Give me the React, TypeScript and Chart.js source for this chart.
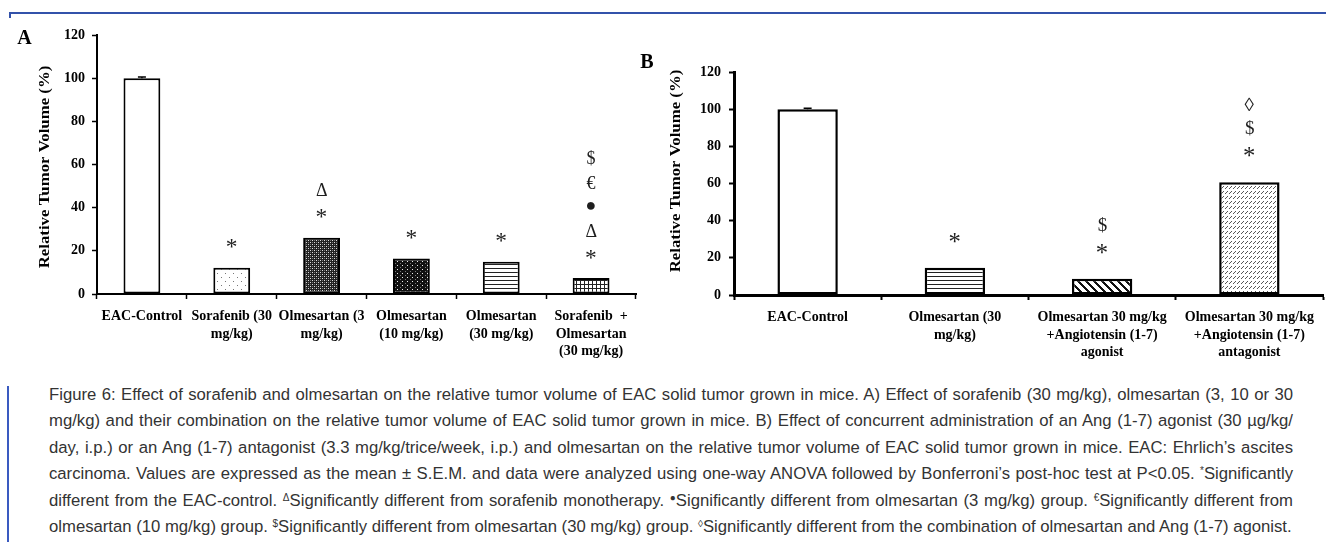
import React, { useEffect, useLayoutEffect, useRef } from "react";
import { Chart, registerables } from "chart.js";
Chart.register(...registerables);

// ---------------- data ----------------
const categoriesA: string[][] = [
  ["EAC-Control"],
  ["Sorafenib (30", "mg/kg)"],
  ["Olmesartan (3", "mg/kg)"],
  ["Olmesartan", "(10 mg/kg)"],
  ["Olmesartan", "(30 mg/kg)"],
  ["Sorafenib  +", "Olmesartan", "(30 mg/kg)"],
];
const valuesA = [100, 12.2, 26.1, 16.4, 15.0, 7.4];
const semA = [0.5, 0, 0, 0, 0, 0];
const marksA: string[][] = [[], ["*"], ["*", "Δ"], ["*"], ["*"], ["*", "Δ", "●", "€", "$"]];

const categoriesB: string[][] = [
  ["EAC-Control"],
  ["Olmesartan (30", "mg/kg)"],
  ["Olmesartan 30 mg/kg", "+Angiotensin (1-7)", "agonist"],
  ["Olmesartan 30 mg/kg", "+Angiotensin (1-7)", "antagonist"],
];
const valuesB = [100, 14.7, 8.8, 60.7];
const semB = [0.5, 0, 0, 0];
const marksB: string[][] = [[], ["*"], ["*", "$"], ["*", "$", "◊"]];

const yTicks = [0, 20, 40, 60, 80, 100, 120];
const yTitle = "Relative Tumor Volume (%)";

const captionLines = [
  "Figure 6: Effect of sorafenib and olmesartan on the relative tumor volume of EAC solid tumor grown in mice. A) Effect of sorafenib (30 mg/kg), olmesartan (3, 10 or 30",
  "mg/kg) and their combination on the relative tumor volume of EAC solid tumor grown in mice. B) Effect of concurrent administration of an Ang (1-7) agonist (30 µg/kg/",
  "day, i.p.) or an Ang (1-7) antagonist (3.3 mg/kg/trice/week, i.p.) and olmesartan on the relative tumor volume of EAC solid tumor grown in mice. EAC: Ehrlich’s ascites",
  "carcinoma. Values are expressed as the mean ± S.E.M. and data were analyzed using one-way ANOVA followed by Bonferroni’s post-hoc test at P<0.05. {*}Significantly",
  "different from the EAC-control. {Δ}Significantly different from sorafenib monotherapy. {●}Significantly different from olmesartan (3 mg/kg) group. {€}Significantly different from",
  "olmesartan (10 mg/kg) group. {$}Significantly different from olmesartan (30 mg/kg) group. {◊}Significantly different from the combination of olmesartan and Ang (1-7) agonist.",
];

// ---------------- styles ----------------
const fillsA = ["white", "dots", "dense", "darkdots", "hlines", "grid"];
const fillsB = ["white", "hlines", "diag", "slashes"];
const markScale: Record<string, number> = { "*": 1.3 };

function makeFill(name: string): any {
  const mk = (w: number, h: number, draw: (c: CanvasRenderingContext2D) => void) => {
    const cv = document.createElement("canvas");
    cv.width = w;
    cv.height = h;
    const c = cv.getContext("2d")!;
    draw(c);
    return c.createPattern(cv, "repeat");
  };
  const px = (c: CanvasRenderingContext2D, x: number, y: number, col: string) => {
    c.fillStyle = col;
    c.fillRect(x, y, 1, 1);
  };
  switch (name) {
    case "dots":
      return mk(8, 8, (c) => {
        c.fillStyle = "#fff";
        c.fillRect(0, 0, 8, 8);
        px(c, 1, 1, "#777");
        px(c, 5, 5, "#777");
      });
    case "dense":
      return mk(4, 4, (c) => {
        c.fillStyle = "#222";
        c.fillRect(0, 0, 4, 4);
        px(c, 0, 0, "#ddd");
        px(c, 2, 2, "#ddd");
        px(c, 0, 2, "#777");
        px(c, 2, 0, "#777");
      });
    case "darkdots":
      return mk(5, 4, (c) => {
        c.fillStyle = "#111";
        c.fillRect(0, 0, 5, 4);
        px(c, 2, 1, "#eee");
        px(c, 0, 3, "#777");
      });
    case "hlines":
      return mk(4, 4, (c) => {
        c.fillStyle = "#fff";
        c.fillRect(0, 0, 4, 4);
        c.fillStyle = "#222";
        c.fillRect(0, 0, 4, 1);
      });
    case "grid":
      return mk(4, 4, (c) => {
        c.fillStyle = "#fff";
        c.fillRect(0, 0, 4, 4);
        c.fillStyle = "#222";
        c.fillRect(0, 0, 4, 1);
        c.fillRect(0, 0, 1, 4);
      });
    case "diag":
      return mk(8, 8, (c) => {
        c.fillStyle = "#fff";
        c.fillRect(0, 0, 8, 8);
        for (let y = 0; y < 8; y++)
          for (let x = 0; x < 8; x++) if ((((x - y) % 8) + 8) % 8 < 3) px(c, x, y, "#111");
      });
    case "slashes":
      return mk(4, 5, (c) => {
        c.fillStyle = "#fff";
        c.fillRect(0, 0, 4, 5);
        px(c, 1, 3, "#555");
        px(c, 2, 2, "#555");
        px(c, 3, 1, "#555");
      });
    default:
      return "#ffffff";
  }
}

const extrasPlugin = {
  id: "extras",
  afterDatasetsDraw(chart: any, _a: any, opts: any) {
    const ctx: CanvasRenderingContext2D = chart.ctx;
    const meta = chart.getDatasetMeta(0);
    const y = chart.scales.y;
    const data = chart.data.datasets[0].data as number[];
    ctx.save();
    data.forEach((v, i) => {
      const el = meta.data[i];
      const s = opts.sem[i] || 0;
      const yv = y.getPixelForValue(v);
      const ye = y.getPixelForValue(v + s);
      if (s > 0) {
        ctx.strokeStyle = "#000";
        ctx.lineWidth = 1.5;
        ctx.beginPath();
        ctx.moveTo(el.x, yv);
        ctx.lineTo(el.x, ye);
        ctx.moveTo(el.x - opts.cap, ye);
        ctx.lineTo(el.x + opts.cap, ye);
        ctx.stroke();
      }
      const marks: string[] = opts.marks[i] || [];
      marks.forEach((m, k) => {
        const cy = ye - opts.first - k * opts.gap;
        const size = opts.markSize * (markScale[m] || 1);
        ctx.font = `${size}px "Liberation Serif", "DejaVu Serif", serif`;
        ctx.textAlign = "left";
        ctx.textBaseline = "alphabetic";
        const mt = ctx.measureText(m);
        const L = mt.actualBoundingBoxLeft,
          R = mt.actualBoundingBoxRight;
        const A = mt.actualBoundingBoxAscent,
          D = mt.actualBoundingBoxDescent;
        ctx.fillStyle = "#1e1e1e";
        ctx.fillText(m, el.x - (R - L) / 2, cy + (A - D) / 2);
      });
    });
    ctx.restore();
  },
  afterDraw(chart: any, _a: any, opts: any) {
    const ctx: CanvasRenderingContext2D = chart.ctx;
    ctx.save();
    ctx.translate(opts.titleX, opts.titleY);
    ctx.rotate(-Math.PI / 2);
    ctx.scale(opts.titleStretch, 1);
    ctx.font = 'bold 14px "Liberation Serif", serif';
    ctx.textAlign = "center";
    ctx.textBaseline = "middle";
    ctx.fillStyle = "#000";
    ctx.fillText(yTitle, 0, 0);
    ctx.restore();
  },
};

type PanelCfg = {
  left: number;
  width: number;
  height: number;
  padTop: number;
  padRight: number;
  yAxisWidth: number;
  xAxisHeight: number;
  barPct: number;
  barBorder: number;
  axisWidth: number;
  tickWidth: number;
  markSize: number;
  first: number;
  gap: number;
  titleX: number;
  titleY: number;
  yPad: number;
};

function Panel(props: {
  categories: string[][];
  values: number[];
  sem: number[];
  marks: string[][];
  fills: string[];
  cfg: PanelCfg;
}) {
  const ref = useRef<HTMLCanvasElement>(null);
  const { cfg } = props;
  useEffect(() => {
    const font = { family: '"Liberation Serif", serif', size: 14, weight: "bold" as const, lineHeight: 1.25 };
    const chart = new Chart(ref.current!, {
      type: "bar",
      data: {
        labels: props.categories,
        datasets: [
          {
            data: props.values,
            backgroundColor: props.fills.map(makeFill),
            borderColor: "#000",
            borderWidth: cfg.barBorder,
            borderSkipped: false,
            barPercentage: cfg.barPct,
            categoryPercentage: 1,
          },
        ],
      },
      options: {
        responsive: false,
        animation: false,
        layout: { padding: { left: 0, right: cfg.padRight, top: cfg.padTop, bottom: 0 } },
        plugins: {
          legend: { display: false },
          tooltip: { enabled: false },
          extras: {
            sem: props.sem,
            marks: props.marks,
            cap: 4,
            first: cfg.first,
            gap: cfg.gap,
            markSize: cfg.markSize,
            titleX: cfg.titleX,
            titleY: cfg.titleY,
            titleStretch: 1.2,
          },
        } as any,
        scales: {
          x: {
            grid: {
              drawOnChartArea: false,
              drawTicks: true,
              tickLength: 5,
              tickWidth: cfg.tickWidth,
              tickColor: "#000",
              offset: true,
            },
            border: { display: true, color: "#000", width: cfg.axisWidth },
            ticks: {
              color: "#000",
              font,
              maxRotation: 0,
              minRotation: 0,
              autoSkip: false,
              padding: 9,
            },
            afterFit: (s: any) => {
              s.height = cfg.xAxisHeight;
            },
          },
          y: {
            min: 0,
            max: 120,
            afterBuildTicks: (s: any) => {
              s.ticks = yTicks.map((v) => ({ value: v }));
            },
            grid: {
              drawOnChartArea: false,
              drawTicks: true,
              tickLength: 5,
              tickWidth: cfg.tickWidth,
              tickColor: "#000",
            },
            border: { display: true, color: "#000", width: cfg.axisWidth },
            ticks: { color: "#000", font, padding: cfg.yPad },
            afterFit: (s: any) => {
              s.width = cfg.yAxisWidth;
            },
          },
        },
      },
      plugins: [extrasPlugin as any],
    });
    return () => chart.destroy();
  }, []);
  return (
    <canvas
      ref={ref}
      width={cfg.width}
      height={cfg.height}
      style={{ position: "absolute", left: cfg.left, top: 0, width: cfg.width, height: cfg.height }}
    />
  );
}

const cfgA: PanelCfg = {
  left: 0,
  width: 660,
  height: 370,
  padTop: 35,
  padRight: 24,
  yAxisWidth: 97,
  xAxisHeight: 76,
  barPct: 0.41,
  barBorder: 2,
  axisWidth: 2,
  tickWidth: 1.5,
  markSize: 18,
  first: 24,
  gap: 24,
  titleX: 45,
  titleY: 167,
  yPad: 7,
};
const cfgB: PanelCfg = {
  left: 660,
  width: 666,
  height: 370,
  padTop: 72,
  padRight: 3,
  yAxisWidth: 74,
  xAxisHeight: 75,
  barPct: 0.41,
  barBorder: 2.5,
  axisWidth: 3,
  tickWidth: 2,
  markSize: 19,
  first: 30,
  gap: 24,
  titleX: 16,
  titleY: 171,
  yPad: 8,
};

function Caption() {
  const refs = useRef<(HTMLDivElement | null)[]>([]);
  const target = 1244;
  useLayoutEffect(() => {
    refs.current.forEach((d, i) => {
      if (!d) return;
      const span = d.firstElementChild as HTMLElement;
      const w = span.getBoundingClientRect().width;
      const spaces = (captionLines[i].match(/ /g) || []).length;
      if (i < captionLines.length - 1 && spaces > 0) {
        d.style.wordSpacing = `${(target - w) / spaces}px`;
      }
    });
  }, []);
  return (
    <div
      style={{
        position: "absolute",
        left: 49,
        top: 382,
        width: target,
        fontFamily: '"Liberation Sans", Arial, sans-serif',
        fontSize: 16.7,
        color: "#333",
      }}
    >
      {captionLines.map((line, i) => {
        const parts = line.split(/\{(.*?)\}/);
        return (
          <div
            key={i}
            ref={(el) => {
              refs.current[i] = el;
            }}
            style={{ whiteSpace: "nowrap", height: 26.4, lineHeight: "26.4px" }}
          >
            <span>
              {parts.map((p, j) =>
                j % 2 === 1 ? (
                  <span key={j} style={{ fontSize: 10, position: "relative", top: -5 }}>
                    {p}
                  </span>
                ) : (
                  <React.Fragment key={j}>{p}</React.Fragment>
                )
              )}
            </span>
          </div>
        );
      })}
    </div>
  );
}

export default function App() {
  const letter = (t: string, cx: number, cy: number) => (
    <div
      style={{
        position: "absolute",
        left: cx - 15,
        top: cy - 12,
        width: 30,
        height: 24,
        lineHeight: "24px",
        textAlign: "center",
        fontFamily: '"Liberation Serif", serif',
        fontWeight: "bold",
        fontSize: 20,
        color: "#000",
      }}
    >
      {t}
    </div>
  );
  return (
    <div
      style={{
        position: "absolute",
        left: 0,
        top: 0,
        width: 1326,
        height: 542,
        overflow: "hidden",
        background: "#fff",
      }}
    >
      <div style={{ position: "absolute", left: 9, top: 12, width: 1317, height: 1.5, background: "#3352aa" }} />
      <div style={{ position: "absolute", left: 9, top: 12, width: 1.5, height: 6, background: "#3352aa" }} />
      <Panel categories={categoriesA} values={valuesA} sem={semA} marks={marksA} fills={fillsA} cfg={cfgA} />
      <Panel categories={categoriesB} values={valuesB} sem={semB} marks={marksB} fills={fillsB} cfg={cfgB} />
      {letter("A", 24.5, 37)}
      {letter("B", 647, 61)}
      <div style={{ position: "absolute", left: 7, top: 386, width: 2, height: 156, background: "#3a5ac0" }} />
      <Caption />
    </div>
  );
}
